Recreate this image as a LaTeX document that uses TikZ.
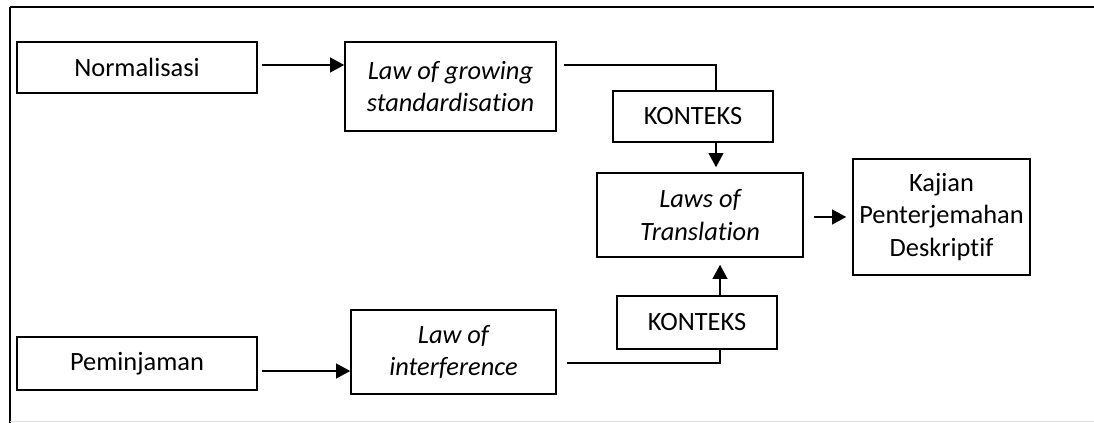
\documentclass[tikz,border=0pt]{standalone}
\usepackage{fontspec}
\setmainfont{Carlito}[Ligatures=NoCommon]
\usetikzlibrary{arrows.meta,calc}
\begin{document}
\begin{tikzpicture}[x=0.75pt,y=-0.75pt,
  box/.style={draw,line width=1.15pt,rectangle,inner sep=0pt,align=center,
    font=\fontsize{19.8}{24.5}\selectfont},
  conn/.style={line width=1.15pt},
  arr/.style={line width=1.15pt,-{Triangle[length=10.5pt,width=11pt]}}]
\useasboundingbox (0,0) rectangle (1094,423);
% outer frame (top and left only, faint bottom)
\draw[line width=1.5pt] (10,7) -- (1094,7);
\draw[line width=1.5pt] (10,7) -- (10,423);
\draw[black!12,line width=0.6pt] (10,421) -- (1094,421);
% nodes
\node[box,minimum width=240*0.75pt,minimum height=51*0.75pt] (norm) at (137,67.5) {Normalisasi};
\node[box,minimum width=211*0.75pt,minimum height=89*0.75pt] (grow) at (450.5,86.5) {\itshape Law of growing\\\itshape standardisation};
\node[box,minimum width=160*0.75pt,minimum height=51*0.75pt] (k1) at (693,116.5) {KONTEKS};
\node[box,minimum width=206*0.75pt,minimum height=84*0.75pt] (laws) at (700,215) {\itshape Laws of\\\itshape Translation};
\node[box,minimum width=177*0.75pt,minimum height=116*0.75pt] (kaj) at (941.5,217) {Kajian\\Penterjemahan\\Deskriptif};
\node[box,minimum width=160*0.75pt,minimum height=53*0.75pt] (k2) at (697,322.5) {KONTEKS};
\node[box,minimum width=205*0.75pt,minimum height=84*0.75pt] (inter) at (453.5,352) {\itshape Law of\\\itshape interference};
\node[box,minimum width=240*0.75pt,minimum height=53*0.75pt] (pem) at (137,363.5) {Peminjaman};
% connectors
\draw[arr] ($(norm.east)+(4,-2.5)$) -- ($(grow.west)+(0,-21.5)$);
\draw[conn] ($(grow.east)+(7,-21.5)$) -| ($(k1.north)+(23,0)$);
\draw[arr] ($(k1.south)+(23,0)$) -- ($(laws.north)+(16,-5)$);
\draw[arr] ($(laws.east)+(10,2)$) -- ($(kaj.west)+(-6,0)$);
\draw[arr] ($(k2.north)+(23,0)$) -- ($(laws.south)+(20,7)$);
\draw[conn] ($(inter.east)+(10,11)$) -| ($(k2.south)+(23,0)$);
\draw[arr] ($(pem.east)+(4,7.5)$) -- ($(inter.west)+(0,19)$);
\end{tikzpicture}
\end{document}
